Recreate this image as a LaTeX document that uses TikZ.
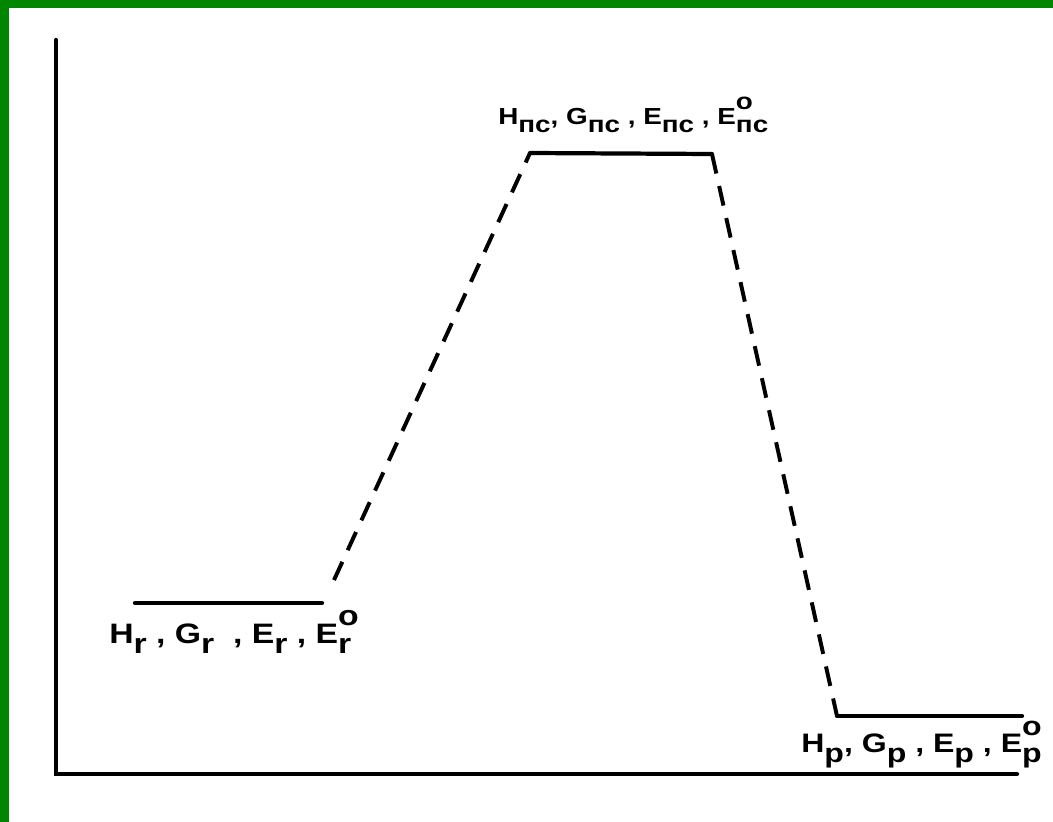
\documentclass[tikz,border=0pt]{standalone}
\usepackage{fontspec}
\setmainfont[FakeStretch=1.2]{Liberation Sans}
\usepackage{tikz}
\usetikzlibrary{positioning}
\definecolor{slidegreen}{RGB}{0,134,0}

% quantity with subscript, and with superscript o
\newcommand{\qsub}[2]{#1\raisebox{-0.38em}{#2}}
\newcommand{\qsubo}[2]{#1\rlap{\raisebox{0.62em}{o}}\raisebox{-0.38em}{#2}}

\begin{document}
\begin{tikzpicture}[
  x=0.025cm, y=-0.025cm,
  axis/.style={line width=3pt, line cap=round},
  level/.style={line width=3pt, line cap=round},
  path/.style={line width=2.8pt, dash pattern=on 0.5cm off 0.32cm},
  lbl/.style={anchor=base west, inner sep=0pt, font=\bfseries\fontsize{20}{24}\selectfont},
  tslbl/.style={lbl, font=\bfseries\fontsize{16.5}{20}\selectfont},
  plbl/.style={lbl, font=\bfseries\fontsize{19}{23}\selectfont}
]
  \useasboundingbox (0,0) rectangle (1053,822);
  \fill[slidegreen] (0,0) rectangle (1053,822);
  \fill[white] (9,8) rectangle (1053,822);

  % axes
  \coordinate (ytop) at (56,40);
  \coordinate (orig) at (56,774);
  \coordinate (xend) at (1017,774);
  \draw[axis] (ytop) -- (orig) -- (xend);

  % energy levels
  \coordinate (r1) at (135,603);
  \coordinate (r2) at (322,603);
  \coordinate (t1) at (530,153);
  \coordinate (t2) at (712,154);
  \coordinate (p1) at (837,716);
  \coordinate (p2) at (1022,716);
  \coordinate (rd) at (334,580);
  \draw[level] (r1) -- (r2);
  \draw[level] (t1) -- (t2);
  \draw[level] (p1) -- (p2);

  % reaction path
  \draw[path] (rd) -- (t1);
  \draw[path] (t2) -- (p1);

  % labels
  \node[lbl] (rlabel) at (109,643)
    {\qsub{H}{r} , \qsub{G}{r}\ \ , \qsub{E}{r} , \qsubo{E}{r}};
  \node[tslbl] (tlabel) at (498,124)
    {\qsub{H}{пс}, \qsub{G}{пс} , \qsub{E}{пс} , \qsubo{E}{пс}};
  \node[plbl] (plabel) at (801,752)
    {\qsub{H}{p}, \qsub{G}{p} , \qsub{E}{p} , \qsubo{E}{p}};
\end{tikzpicture}
\end{document}
